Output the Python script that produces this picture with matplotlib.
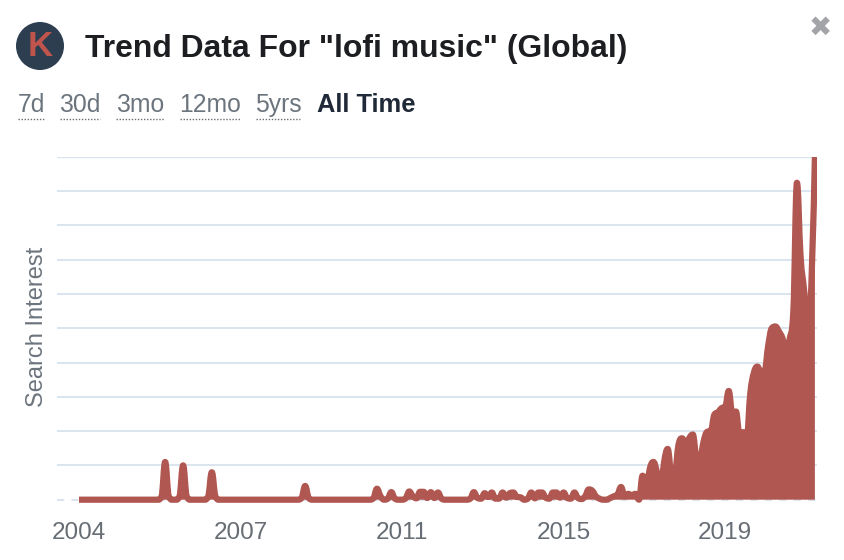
import matplotlib
matplotlib.use("Agg")
import matplotlib.pyplot as plt
from matplotlib.path import Path
from matplotlib.patches import PathPatch, Circle

plt.rcParams['font.family'] = ['Liberation Sans', 'DejaVu Sans']

TITLE = 'Trend Data For "lofi music" (Global)'
RANGES = ['7d', '30d', '3mo', '12mo', '5yrs']
ACTIVE_RANGE = 'All Time'
YLABEL = 'Search Interest'
YEAR_LABELS = ['2004', '2007', '2011', '2015', '2019']
YEAR_POS = [0, 45, 90, 135, 180]
Y_GRID = [0, 10, 20, 30, 40, 50, 60, 70, 80, 90, 100]

interest = [
    0, 0, 0, 0, 0, 0, 0, 0, 0, 0,
    0, 0, 0, 0, 0, 0, 0, 0, 0, 0,
    0, 0, 0, 1, 11, 1, 0, 0, 1, 10,
    1, 0, 0, 0, 0, 0, 1, 8, 1, 0,
    0, 0, 0, 0, 0, 0, 0, 0, 0, 0,
    0, 0, 0, 0, 0, 0, 0, 0, 0, 0,
    0, 0, 0.5, 4, 0.5, 0, 0, 0, 0, 0,
    0, 0, 0, 0, 0, 0, 0, 0, 0, 0,
    0, 0, 0.4, 3.2, 1, 0, 0.3, 2.2, 0.3, 0,
    0, 0.4, 2.4, 1, 0.4, 2.3, 2.3, 0.5, 2.2, 0.5,
    2.1, 0.3, 0, 0, 0, 0, 0, 0, 0, 0.3,
    2.2, 0.5, 0.3, 1.9, 0.8, 2.1, 0.3, 0.3, 2.1, 0.6,
    1.9, 2.1, 0.8, 0.7, 0, 0.3, 2.1, 0.4, 2.1, 2.1,
    0.6, 0.3, 2.1, 2.1, 0.6, 2.1, 0.5, 0.3, 2.1, 0.5,
    0.2, 1, 3, 2.6, 1, 0.3, 0, 0, 0.5, 1,
    1.5, 3.7, 1, 1.7, 1.3, 1.7, 0, 7, 3, 9,
    11, 8, 2.5, 11, 14.8, 8, 8, 16, 17.9, 16,
    18, 19, 12.5, 12, 17, 19.8, 20, 24.8, 25.5, 26.7,
    27, 31.7, 25, 25.7, 19, 19.7, 17.8, 31, 37, 38.8,
    37, 37.5, 45, 50, 50.5, 49, 47, 42.8, 47, 55,
    92.4, 71, 61, 50, 62, 100,
]
months = list(range(len(interest)))

W, H = 844, 560
fig = plt.figure(figsize=(W / 100, H / 100), dpi=100, facecolor='white')

# plot area in pixels
left, right, top, bottom = 57, 817, 156.7, 512
zero_px = 499.7
ppm = (814.9 - 79) / 205
ppv = (zero_px - top) / 100
ax = fig.add_axes([left / W, 1 - bottom / H, (right - left) / W, (bottom - top) / H])
ax.set_xlim((left - 79) / ppm, (right - 79) / ppm)
ax.set_ylim(-(bottom - zero_px) / ppv, 100)
for s in ax.spines.values():
    s.set_visible(False)

ax.set_yticks(Y_GRID)
ax.set_yticklabels([])
ax.set_xticks(YEAR_POS)
ax.set_xticklabels(YEAR_LABELS)
ax.tick_params(axis='both', length=0)
ax.tick_params(axis='x', labelsize=17.5, labelcolor='#666d74', pad=7)
ax.yaxis.grid(True, color='#d8e3ee', lw=1.3)
ax.xaxis.grid(False)
ax.set_axisbelow(True)
ax.yaxis.get_gridlines()[0].set_linestyle((0, (4, 4)))
ax.yaxis.get_gridlines()[-1].set_linewidth(0.9)


def spline_path(xs, ys):
    verts, codes = [(xs[0], ys[0])], [Path.MOVETO]
    n = len(xs)
    ctrl = []
    for i in range(n):
        x, y = xs[i], ys[i]
        if i == 0 or i == n - 1:
            ctrl.append(((x, y), (x, y)))
            continue
        lx, ly = xs[i - 1], ys[i - 1]
        nx, ny = xs[i + 1], ys[i + 1]
        lcx, lcy = (1.5 * x + lx) / 2.5, (1.5 * y + ly) / 2.5
        rcx, rcy = (1.5 * x + nx) / 2.5, (1.5 * y + ny) / 2.5
        c = (rcy - lcy) * (rcx - x) / (rcx - lcx) + y - rcy
        lcy += c
        rcy += c
        if lcy > ly and lcy > y:
            lcy = max(ly, y)
            rcy = 2 * y - lcy
        elif lcy < ly and lcy < y:
            lcy = min(ly, y)
            rcy = 2 * y - lcy
        if rcy > ny and rcy > y:
            rcy = max(ny, y)
            lcy = 2 * y - rcy
        elif rcy < ny and rcy < y:
            rcy = min(ny, y)
            lcy = 2 * y - rcy
        ctrl.append(((lcx, lcy), (rcx, rcy)))
    for i in range(1, n):
        verts += [ctrl[i - 1][1], ctrl[i][0], (xs[i], ys[i])]
        codes += [Path.CURVE4] * 3
    return verts, codes


verts, codes = spline_path(months, interest)
COLOR = '#b15751'
area = Path(verts + [(months[-1], 0), (months[0], 0), (months[0], 0)],
            codes + [Path.LINETO, Path.LINETO, Path.CLOSEPOLY])
ax.add_patch(PathPatch(area, facecolor=COLOR, edgecolor='none', zorder=3))
ax.add_patch(PathPatch(Path(verts, codes), facecolor='none', edgecolor=COLOR,
                       lw=4.5, capstyle='butt', joinstyle='round', zorder=4))

# overlay in pixel coordinates
ov = fig.add_axes([0, 0, 1, 1], facecolor='none')
ov.set_xlim(0, W)
ov.set_ylim(H, 0)
ov.axis('off')

ov.add_patch(Circle((40, 46), 24, facecolor='#2c3e50', edgecolor='none'))
ov.text(40, 47, 'K', color='#c0554d', fontsize=25, fontweight='bold',
        ha='center', va='center')
ov.text(85, 48.5, TITLE, color='#1c1e21', fontsize=22.95, fontweight='bold',
        ha='left', va='center')
ov.text(820, 28, '\u2716', color='#a3a4a8', fontsize=20, ha='center', va='center',
        family='DejaVu Sans')

range_x = [(18, 44), (60, 100), (116, 164), (180, 240), (256, 300)]
for lab, (x0, x1) in zip(RANGES, range_x):
    ov.text((x0 + x1) / 2, 105, lab, color='#6c757d', fontsize=17.8,
            ha='center', va='center')
    ov.plot([x0, x1], [118.5, 118.5], color='#666d74', lw=1, ls=(0, (1, 1.2)))
ov.text(317, 105, ACTIVE_RANGE, color='#1f2937', fontsize=18.4,
        fontweight='bold', ha='left', va='center')
ov.text(37, 327, YLABEL, color='#6c757d', fontsize=17, rotation=90,
        ha='center', va='center')

fig.savefig('out.png', dpi=100, facecolor='white')
